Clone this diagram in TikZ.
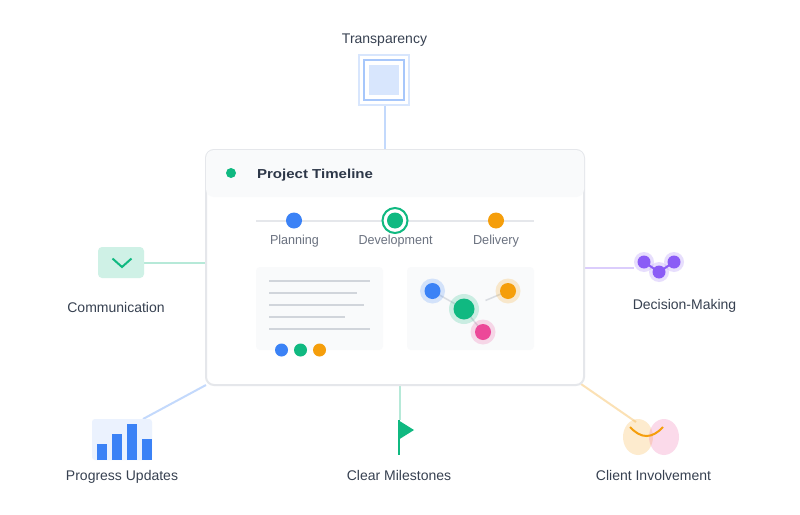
\documentclass[tikz,border=0pt]{standalone}
\usepackage{fontspec}
\usepackage{graphicx}
\setmainfont{Liberation Sans}
\usetikzlibrary{backgrounds}
\definecolor{ink}{HTML}{374151}
\definecolor{muted}{HTML}{6B7280}
\definecolor{title}{HTML}{2D3748}
\definecolor{blueC}{HTML}{3B82F6}
\definecolor{greenC}{HTML}{10B981}
\definecolor{orangeC}{HTML}{F59E0B}
\definecolor{pinkC}{HTML}{EC4899}
\definecolor{purpleC}{HTML}{8B5CF6}
\definecolor{borderC}{HTML}{E5E7EB}
\definecolor{panelC}{HTML}{F9FAFB}
\definecolor{greyL}{HTML}{D1D5DB}
\newcommand{\fitw}[2]{\resizebox{#1pt}{\height}{#2}}
\tikzset{
  box/.style={rectangle,inner sep=0pt,outer sep=0pt},
  dot/.style={circle,inner sep=0pt,outer sep=0pt,minimum size=#1},
  lab/.style={inner sep=0pt,outer sep=0pt,anchor=base,text=ink,font=\fontsize{14}{16}\selectfont},
  steplab/.style={inner sep=0pt,outer sep=0pt,anchor=base,text=muted,font=\fontsize{13}{15}\selectfont},
  link/.style={line width=2pt,opacity=.3},
  rule/.style={line width=2pt,greyL},
  edgeline/.style={line width=1.5pt,greyL,opacity=.8},
}
\begin{document}
\begin{tikzpicture}[x=1pt,y=-1pt]
\useasboundingbox (0,0) rectangle (800,514);
% card
\node[box,draw=borderC,line width=2pt,fill=white,rounded corners=8pt,minimum width=378pt,minimum height=235pt] (card) at (395,267.5) {};
\node[box,fill=panelC,rounded corners=8pt,minimum width=378pt,minimum height=47pt] (head) at (395,173.5) {};
\node[dot=10pt,fill=greenC] (headdot) at (231,173) {};
\node[inner sep=0pt,outer sep=0pt,anchor=base,text=title,font=\fontsize{13}{15}\selectfont\bfseries] (titlet) at (315,178) {\fitw{116}{Project Timeline}};
% timeline
\coordinate (tlL) at (256,220.5);
\coordinate (tlR) at (534,220.5);
\draw[line width=2pt,borderC] (tlL) -- (tlR);
\node[dot=16pt,fill=blueC] (s1) at (294,220.5) {};
\node[dot=25pt,draw=greenC,line width=2pt,fill=white] (s2r) at (395,220.5) {};
\node[dot=16pt,fill=greenC] (s2) at (395,220.5) {};
\node[dot=16pt,fill=orangeC] (s3) at (496,220.5) {};
\node[steplab] (l1) at (294.5,244) {\fitw{49}{Planning}};
\node[steplab] (l2) at (395.5,244) {\fitw{74}{Development}};
\node[steplab] (l3) at (496,244) {\fitw{46}{Delivery}};
% left panel
\node[box,fill=panelC,rounded corners=4pt,minimum width=127pt,minimum height=83pt] (pL) at (319.5,308.5) {};
\coordinate (a1) at (269,281); \coordinate (b1) at (370,281);
\coordinate (a2) at (269,293); \coordinate (b2) at (357,293);
\coordinate (a3) at (269,305); \coordinate (b3) at (364,305);
\coordinate (a4) at (269,317); \coordinate (b4) at (345,317);
\coordinate (a5) at (269,328.5); \coordinate (b5) at (370,328.5);
\foreach \i in {1,...,5} \draw[rule] (a\i) -- (b\i);
\node[dot=13pt,fill=blueC] (d1) at (281.5,350) {};
\node[dot=13pt,fill=greenC] (d2) at (300.5,350) {};
\node[dot=13pt,fill=orangeC] (d3) at (319.5,350) {};
% right panel
\node[box,fill=panelC,rounded corners=4pt,minimum width=127pt,minimum height=83pt] (pR) at (470.5,308.5) {};
\node[dot=16pt] (nb) at (432.5,291) {};
\node[dot=20pt] (ng) at (464,309) {};
\node[dot=16pt] (no) at (508,291) {};
\node[dot=16pt] (np) at (483,332) {};
\coordinate (oend) at (485.5,300.5);
\draw[edgeline] (nb.center) -- (ng.center);
\draw[edgeline] (ng.center) -- (np.center);
\draw[edgeline] (oend) -- (no.center);
\node[dot=25pt,fill=blueC,opacity=.2] at (nb) {};
\node[dot=30pt,fill=greenC,opacity=.2] at (ng) {};
\node[dot=25pt,fill=orangeC,opacity=.2] at (no) {};
\node[dot=25pt,fill=pinkC,opacity=.2] at (np) {};
\node[dot=16pt,fill=blueC] at (nb) {};
\node[dot=21pt,fill=greenC] at (ng) {};
\node[dot=16pt,fill=orangeC] at (no) {};
\node[dot=16pt,fill=pinkC] at (np) {};
% Transparency
\node[lab] (tT) at (384.5,43) {Transparency};
\node[box,draw=blueC!20,line width=2pt,minimum size=50pt] (trO) at (384,80) {};
\node[box,draw=blueC!45,line width=2pt,minimum size=40pt] (trM) at (384,80) {};
\node[box,fill=blueC!20,minimum size=30pt] (trI) at (384,80) {};
\coordinate (trX) at (385,0);
% Communication
\node[box,fill=greenC!20,rounded corners=4pt,minimum width=46pt,minimum height=31pt] (comm) at (121,262.5) {};
\coordinate (c1) at (112.5,258.5); \coordinate (c2) at (122,267); \coordinate (c3) at (131.5,258.5);
\draw[line width=2pt,greenC] (c1) -- (c2) -- (c3);
\node[lab] (tC) at (116,312) {Communication};
% Decision-Making
\node[dot=20pt,fill=purpleC,opacity=.2] (h1) at (644,262) {};
\node[dot=20pt,fill=purpleC,opacity=.2] (h2) at (659,272) {};
\node[dot=20pt,fill=purpleC,opacity=.2] (h3) at (674,262) {};
\draw[line width=2pt,purpleC] (h1.center) -- (h2.center) -- (h3.center);
\node[dot=13pt,fill=purpleC] at (h1) {};
\node[dot=13pt,fill=purpleC] at (h2) {};
\node[dot=13pt,fill=purpleC] at (h3) {};
\coordinate (decIn) at (634,267.5);
\node[lab] (tD) at (684.5,309) {Decision-Making};
% Progress
\node[box,fill=blueC!10,rounded corners=3pt,minimum width=60pt,minimum height=41pt] (prog) at (122,439.5) {};
\fill[blueC] (97,444) rectangle (107,460);
\fill[blueC] (112,434) rectangle (122,460);
\fill[blueC] (127,424) rectangle (137,460);
\fill[blueC] (142,439) rectangle (152,460);
\coordinate (progIn) at (143,419);
\coordinate (cardBL) at (206,385);
\node[lab] (tP) at (122,480) {Progress Updates};
% Milestones
\coordinate (flagT) at (399,420);
\coordinate (flagB) at (399,455);
\coordinate (flagL) at (400,385);
\coordinate (flagI) at (400,420);
\draw[line width=2pt,greenC] (flagT) -- (flagB);
\fill[greenC] (398,420) -- (414,430) -- (398,440) -- cycle;
\node[lab] (tM) at (399,480) {Clear Milestones};
% Client
\fill[orangeC,opacity=.2] (638,437) ellipse (15pt and 18pt);
\fill[pinkC,opacity=.2] (664,437) ellipse (15pt and 18pt);
\coordinate (sm1) at (630,427); \coordinate (sm2) at (663,427);
\coordinate (smA) at (641,439); \coordinate (smB) at (652,439);
\draw[line width=2pt,orangeC] (sm1) .. controls (smA) and (smB) .. (sm2);
\coordinate (clIn) at (636,422);
\coordinate (cardBR) at (581,384);
\node[lab] (tI) at (653.5,480) {Client Involvement};
% connectors
\begin{scope}[on background layer]
\fill[white] (0,0) rectangle (800,514);
\draw[link,blueC] (trO.south -| trX) -- (card.north -| trX);
\draw[link,greenC] (comm.east) -- (comm.east -| card.west);
\draw[link,purpleC] (card.east |- decIn) -- (decIn);
\draw[link,blueC] (cardBL) -- (progIn);
\draw[link,greenC] (flagL) -- (flagI);
\draw[link,orangeC] (cardBR) -- (clIn);
\end{scope}
\end{tikzpicture}
\end{document}
